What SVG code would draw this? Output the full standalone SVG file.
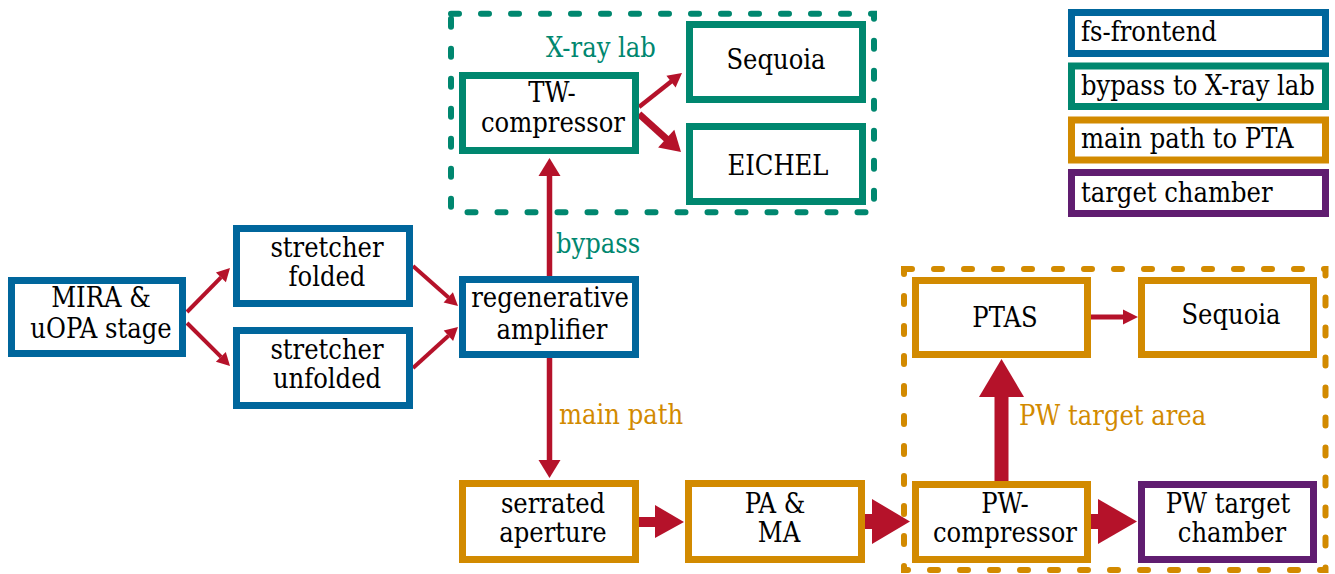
<svg xmlns="http://www.w3.org/2000/svg" width="1335" height="574" viewBox="0 0 1335 574">
<style>
  text { font-family: "DejaVu Serif Condensed", "DejaVu Serif", serif; font-stretch: condensed; font-size: 27px; fill: #000; }
  .c { text-anchor: middle; }
  .box { fill: #fff; stroke-width: 7; }
  .blue { stroke: #00669C; }
  .teal { stroke: #00876F; }
  .orange { stroke: #D28A00; }
  .purple { stroke: #601D70; }
  .area { fill: none; stroke-width: 6; stroke-dasharray: 8 22; stroke-linecap: round; }
  .lt { fill: #00876F; }
  .lo { fill: #D28A00; }
  .shaft { stroke: #B5122A; fill: none; }
  .head { fill: #B5122A; stroke: none; }
</style>
<rect width="1335" height="574" fill="#fff"/>

<g id="xray-area">
  <rect class="area teal" x="451" y="13.7" width="423" height="198.5"/>
  <text class="lt" x="546" y="57">X-ray lab</text>
</g>
<g id="pw-area">
  <rect class="area orange" x="904" y="269" width="421.5" height="301"/>
  <text class="lo" x="1019" y="425">PW target area</text>
</g>

<g id="connectors">
  <!-- MIRA -> stretcher folded -->
  <line class="shaft" stroke-width="4" x1="187" y1="312" x2="221" y2="277.3"/>
  <polygon class="head" points="230,268 225.9,282.2 215.9,272.4"/>
  <!-- MIRA -> stretcher unfolded -->
  <line class="shaft" stroke-width="4" x1="187" y1="323" x2="221" y2="356.8"/>
  <polygon class="head" points="230,366 215.9,361.8 225.8,351.9"/>
  <!-- folded -> regen -->
  <line class="shaft" stroke-width="4" x1="413" y1="266" x2="448.5" y2="297.5"/>
  <polygon class="head" points="458,306 443.6,302.6 452.9,292.2"/>
  <!-- unfolded -> regen -->
  <line class="shaft" stroke-width="4" x1="413" y1="368" x2="448.5" y2="335.7"/>
  <polygon class="head" points="458,327 453.1,340.9 443.7,330.6"/>
  <!-- regen -> TW (bypass) -->
  <line class="shaft" stroke-width="5.5" x1="549.5" y1="276" x2="549.5" y2="175"/>
  <polygon class="head" points="549.5,158 538.5,176 560.5,176"/>
  <text class="lt" x="556" y="253">bypass</text>
  <!-- regen -> serrated (main path) -->
  <line class="shaft" stroke-width="5.5" x1="549.5" y1="358" x2="549.5" y2="461"/>
  <polygon class="head" points="549.5,478 538.5,460 560.5,460"/>
  <text class="lo" x="559" y="424">main path</text>
  <!-- TW -> Sequoia -->
  <line class="shaft" stroke-width="4.5" x1="639" y1="107" x2="671.5" y2="81.3"/>
  <polygon class="head" points="682,73 675.6,87.6 666.4,75.8"/>
  <!-- TW -> EICHEL -->
  <line class="shaft" stroke-width="7" x1="639" y1="114" x2="667" y2="139.3"/>
  <polygon class="head" points="681,152 658.1,147.5 674.3,129.7"/>
  <!-- serrated -> PA -->
  <line class="shaft" stroke-width="10" x1="639" y1="522" x2="656" y2="522"/>
  <polygon class="head" points="655,505 684,522 655,538"/>
  <!-- PA -> PW-compressor -->
  <line class="shaft" stroke-width="15" x1="865" y1="521.5" x2="873" y2="521.5"/>
  <polygon class="head" points="872,499 910,521.5 872,544"/>
  <!-- PW-compressor -> PW target chamber -->
  <line class="shaft" stroke-width="15" x1="1091" y1="521.5" x2="1099" y2="521.5"/>
  <polygon class="head" points="1098,499 1137,521.5 1098,544"/>
  <!-- PW-compressor -> PTAS -->
  <line class="shaft" stroke-width="14" x1="1001.5" y1="481" x2="1001.5" y2="396"/>
  <polygon class="head" points="979,397 1001.5,359 1024,397"/>
  <!-- PTAS -> Sequoia -->
  <line class="shaft" stroke-width="5" x1="1091" y1="317" x2="1124" y2="317"/>
  <polygon class="head" points="1123,309.5 1138,317 1123,324.5"/>
</g>

<g id="mira">
  <rect class="box blue" x="11.5" y="280.5" width="171" height="73"/>
  <text class="c" x="101" y="307">MIRA &amp;</text>
  <text class="c" x="101" y="338">uOPA stage</text>
</g>
<g id="stretcher-folded">
  <rect class="box blue" x="236.5" y="228.5" width="173" height="75"/>
  <text class="c" x="327" y="257">stretcher</text>
  <text class="c" x="327" y="286">folded</text>
</g>
<g id="stretcher-unfolded">
  <rect class="box blue" x="236.5" y="330.5" width="173" height="75"/>
  <text class="c" x="327" y="359">stretcher</text>
  <text class="c" x="327" y="388">unfolded</text>
</g>
<g id="regen">
  <rect class="box blue" x="462.5" y="279.5" width="173" height="75"/>
  <text class="c" x="550" y="307">regenerative</text>
  <text class="c" x="552" y="339">amplifier</text>
</g>
<g id="tw-compressor">
  <rect class="box teal" x="462.5" y="75.5" width="173" height="75"/>
  <text class="c" x="552" y="102">TW-</text>
  <text class="c" x="553" y="132">compressor</text>
</g>
<g id="sequoia-xray">
  <rect class="box teal" x="689.5" y="24.5" width="173" height="75"/>
  <text class="c" x="776" y="69">Sequoia</text>
</g>
<g id="eichel">
  <rect class="box teal" x="689.5" y="126.5" width="173" height="75"/>
  <text class="c" x="778" y="175">EICHEL</text>
</g>
<g id="serrated">
  <rect class="box orange" x="462.5" y="483.5" width="173" height="76"/>
  <text class="c" x="553" y="513">serrated</text>
  <text class="c" x="553" y="542">aperture</text>
</g>
<g id="pa-ma">
  <rect class="box orange" x="688.5" y="483.5" width="173" height="76"/>
  <text class="c" x="775" y="513">PA &amp;</text>
  <text class="c" x="779" y="542">MA</text>
</g>
<g id="ptas">
  <rect class="box orange" x="915.5" y="280.5" width="172" height="74"/>
  <text class="c" x="1005" y="327">PTAS</text>
</g>
<g id="sequoia-pta">
  <rect class="box orange" x="1141.5" y="280.5" width="172" height="74"/>
  <text class="c" x="1231" y="324">Sequoia</text>
</g>
<g id="pw-compressor">
  <rect class="box orange" x="915.5" y="484.5" width="172" height="75"/>
  <text class="c" x="1005" y="513">PW-</text>
  <text class="c" x="1005" y="542">compressor</text>
</g>
<g id="pw-target-chamber">
  <rect class="box purple" x="1141.5" y="484.5" width="172" height="75"/>
  <text class="c" x="1228" y="513">PW target</text>
  <text class="c" x="1232" y="542">chamber</text>
</g>

<g id="legend">
  <g id="legend-fs">
    <rect class="box blue" x="1071.5" y="12.5" width="254" height="41"/>
    <text x="1081" y="41">fs-frontend</text>
  </g>
  <g id="legend-bypass">
    <rect class="box teal" x="1071.5" y="66" width="254" height="40.5"/>
    <text x="1081" y="95">bypass to X-ray lab</text>
  </g>
  <g id="legend-main">
    <rect class="box orange" x="1071.5" y="120" width="254" height="40"/>
    <text x="1081" y="148">main path to PTA</text>
  </g>
  <g id="legend-target">
    <rect class="box purple" x="1071.5" y="172.5" width="254" height="41"/>
    <text x="1081" y="202">target chamber</text>
  </g>
</g>
</svg>
